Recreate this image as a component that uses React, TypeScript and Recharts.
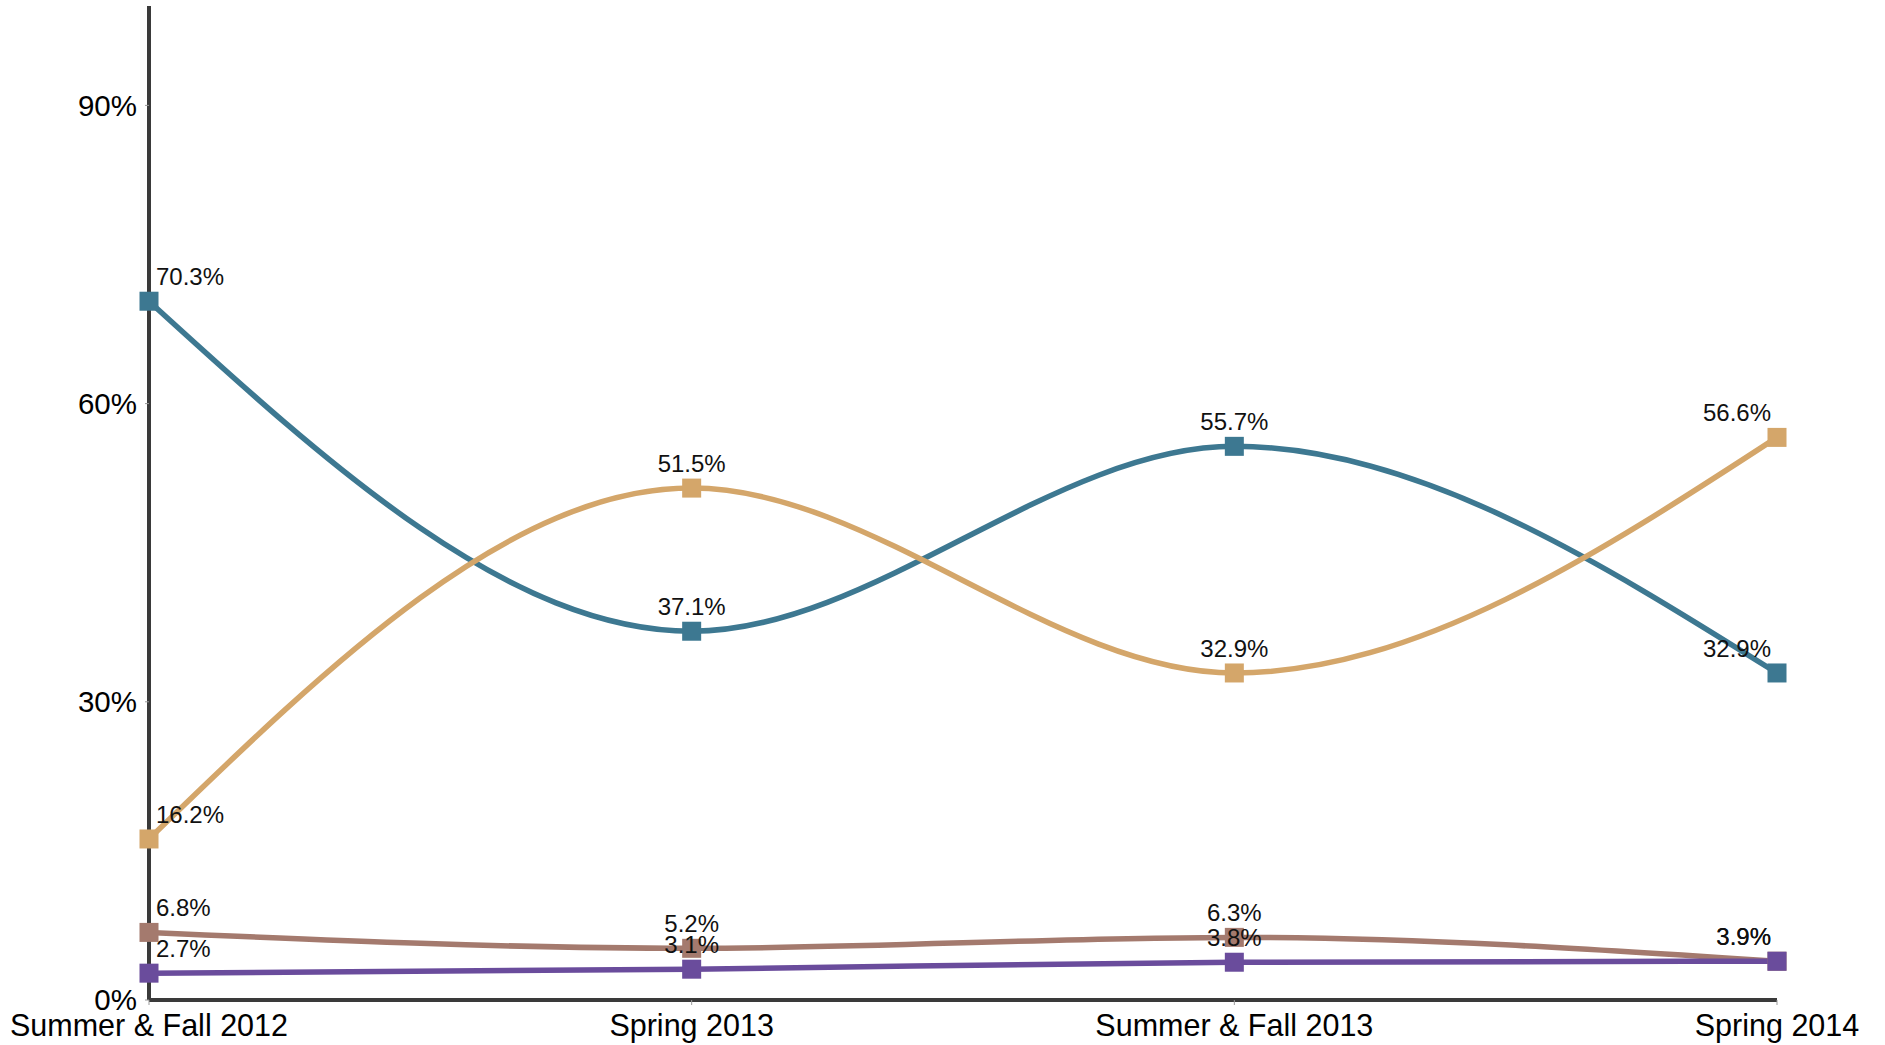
import React from 'react';
import { LineChart, Line, XAxis, YAxis, LabelList } from 'recharts';

const categories = ['Summer & Fall 2012', 'Spring 2013', 'Summer & Fall 2013', 'Spring 2014'];
const blueValues = [70.3, 37.1, 55.7, 32.9];
const tanValues = [16.2, 51.5, 32.9, 56.6];
const brownValues = [6.8, 5.2, 6.3, 3.9];
const purpleValues = [2.7, 3.1, 3.8, 3.9];
const yTicks = [0, 30, 60, 90];

const data = categories.map((c, i) => ({
  name: c,
  blue: blueValues[i],
  tan: tanValues[i],
  brown: brownValues[i],
  purple: purpleValues[i],
}));

const series = [
  { key: 'blue', color: '#3D7891' },
  { key: 'tan', color: '#D4A66A' },
  { key: 'brown', color: '#A47A6E' },
  { key: 'purple', color: '#6A4C9C' },
];

const FONT = '"Liberation Sans", Arial, sans-serif';
const lastIndex = categories.length - 1;

const SquareDot = (color: string) => (props: any) => {
  const { cx, cy, index } = props;
  if (cx == null || cy == null) return <g key={index} />;
  return <rect key={index} x={cx - 9.5} y={cy - 9.5} width={19} height={19} fill={color} />;
};

const renderLabel = (props: any) => {
  const { x, y, value, index } = props;
  let anchor: 'start' | 'middle' | 'end' = 'middle';
  let dx = 0;
  if (index === 0) {
    anchor = 'start';
    dx = 7;
  } else if (index === lastIndex) {
    anchor = 'end';
    dx = -6;
  }
  return (
    <text
      key={index}
      x={Number(x) + dx}
      y={Number(y) - 16}
      textAnchor={anchor}
      fontSize={24}
      fontFamily={FONT}
      fill="#111"
    >
      {`${value}%`}
    </text>
  );
};

export default function App() {
  return (
    <div style={{ position: 'absolute', left: 0, top: 0, width: 1885, height: 1045, background: '#fff' }}>
      <LineChart
        width={1885}
        height={1045}
        data={data}
        margin={{ top: 6, right: 108, bottom: 0, left: 0 }}
      >
        <XAxis
          dataKey="name"
          type="category"
          interval={0}
          padding={{ left: 0, right: 0 }}
          height={45}
          tickSize={5}
          tickMargin={9}
          tick={{ fontSize: 30.5, fill: '#000', fontFamily: FONT }}
          tickLine={{ stroke: '#999', strokeWidth: 1 }}
          axisLine={{ stroke: '#3a3a3a', strokeWidth: 4 }}
        />
        <YAxis
          width={149}
          domain={[0, 100]}
          ticks={yTicks}
          tickFormatter={(v: number) => `${v}%`}
          tickSize={4}
          tickMargin={8}
          tick={{ fontSize: 29.5, fill: '#000', fontFamily: FONT }}
          tickLine={{ stroke: '#999', strokeWidth: 1 }}
          axisLine={{ stroke: '#3a3a3a', strokeWidth: 4 }}
        />
        {series.map((s) => (
          <Line
            key={s.key}
            dataKey={s.key}
            type="monotone"
            stroke={s.color}
            strokeWidth={5.5}
            dot={SquareDot(s.color)}
            activeDot={false}
            isAnimationActive={false}
          />
        ))}
        {series.map((s) => (
          <Line
            key={`${s.key}-labels`}
            dataKey={s.key}
            type="monotone"
            stroke="none"
            dot={false}
            activeDot={false}
            legendType="none"
            isAnimationActive={false}
          >
            <LabelList dataKey={s.key} content={renderLabel} />
          </Line>
        ))}
      </LineChart>
    </div>
  );
}
